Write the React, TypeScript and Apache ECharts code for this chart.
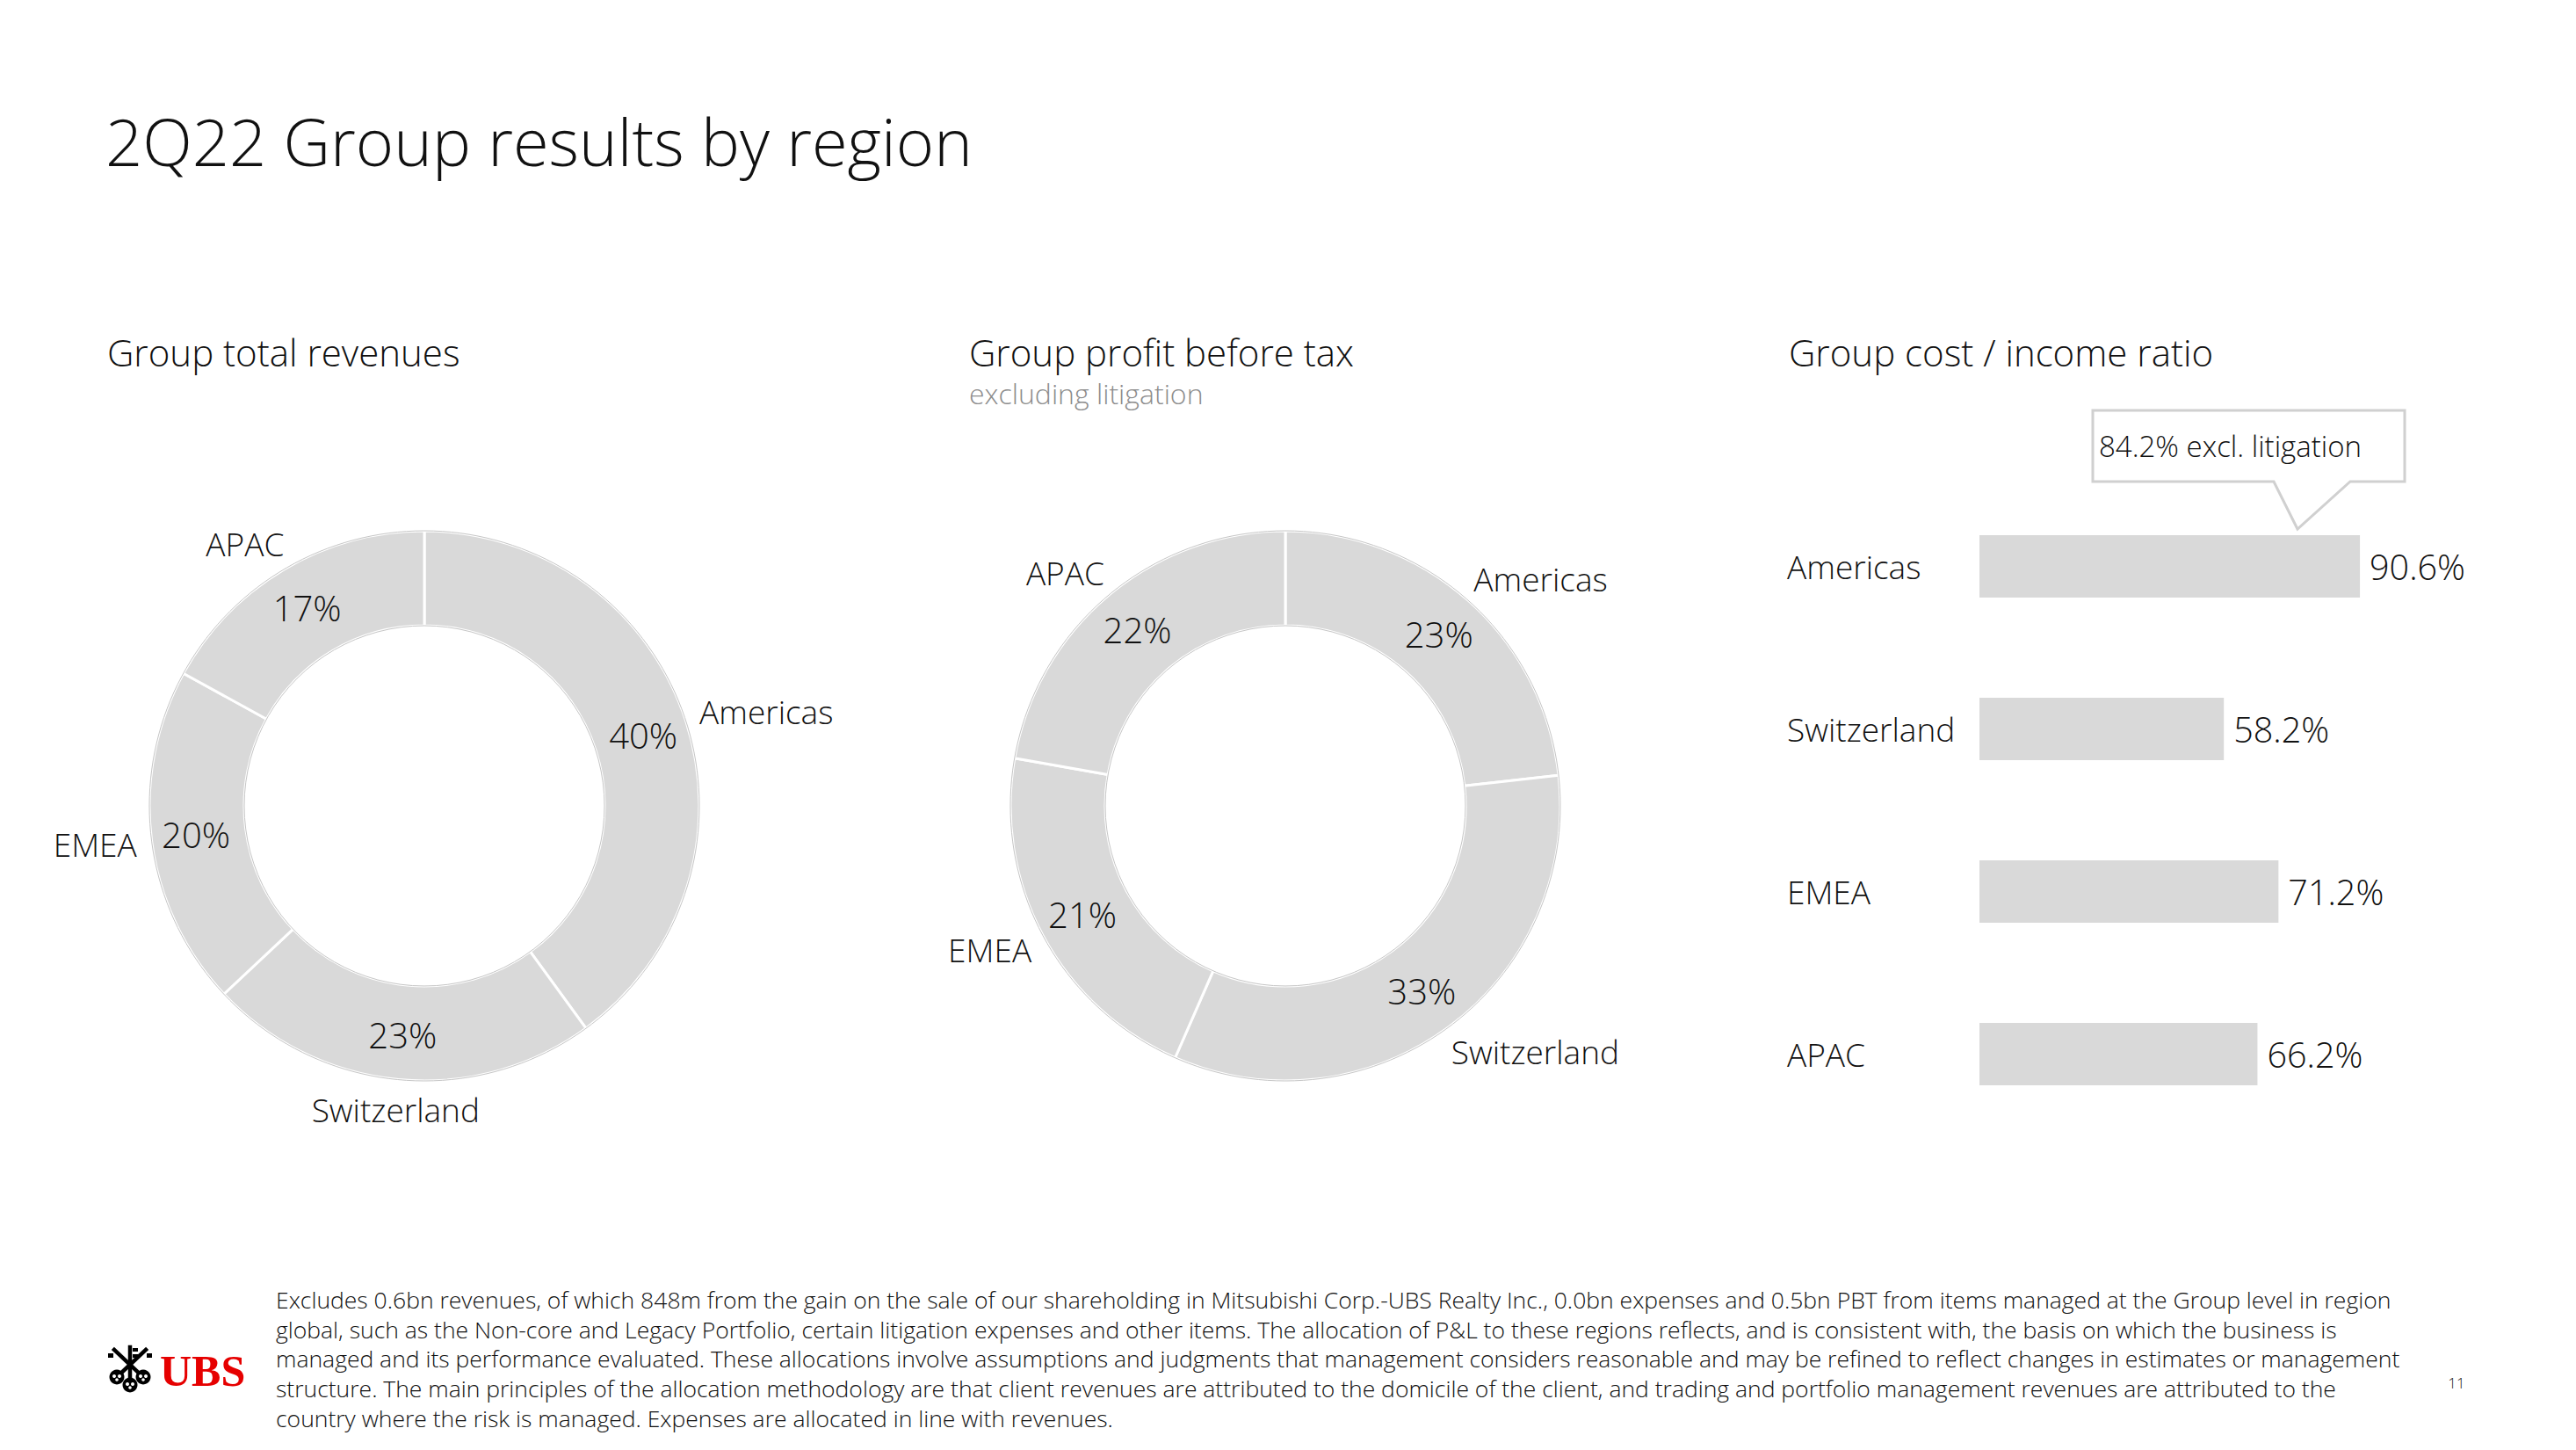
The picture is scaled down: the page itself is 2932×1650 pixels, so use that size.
import React, { useEffect, useRef } from "react";
import * as echarts from "echarts";

const regions = ["Americas", "Switzerland", "EMEA", "APAC"];
const revenueShare = [40, 23, 20, 17];
const pbtShare = [23, 33, 21, 22];
const costIncome = [90.6, 58.2, 71.2, 66.2];
const americasExclLitigation = 84.2;

const pageTitle = "2Q22 Group results by region";
const panelTitles = ["Group total revenues", "Group profit before tax", "Group cost / income ratio"];
const panelSubtitle = "excluding litigation";
const footnoteLines = [
  "Excludes 0.6bn revenues, of which 848m from the gain on the sale of our shareholding in Mitsubishi Corp.-UBS Realty Inc., 0.0bn expenses and 0.5bn PBT from items managed at the Group level in region",
  "global, such as the Non-core and Legacy Portfolio, certain litigation expenses and other items. The allocation of P&L to these regions reflects, and is consistent with, the basis on which the business is",
  "managed and its performance evaluated. These allocations involve assumptions and judgments that management considers reasonable and may be refined to reflect changes in estimates or management",
  "structure. The main principles of the allocation methodology are that client revenues are attributed to the domicile of the client, and trading and portfolio management revenues are attributed to the",
  "country where the risk is managed. Expenses are allocated in line with revenues.",
];

const FONT = "'Open Sans', 'Noto Sans', sans-serif";
const WEIGHT = 300;
const GREY = "#d9d9d9";
const INK = "#111111";

function donutSeries(values: number[], center: [number, number], centerNameFix: number | null) {
  const radius = [205, 313];
  const data = regions.map((name, i) => ({ name, value: values[i] }));
  return [
    {
      type: "pie",
      center,
      radius,
      startAngle: 90,
      silent: true,
      avoidLabelOverlap: false,
      data,
      itemStyle: { color: "rgba(0,0,0,0)", borderWidth: 0 },
      label: {
        show: true,
        position: "outside",
        formatter: "{b}",
        fontFamily: FONT,
        fontWeight: WEIGHT,
        fontSize: 37,
        color: INK,
        distanceToLabelLine: -17,
      },
      labelLine: { show: false, length: 34, length2: 0 },
      labelLayout: (p: any) => {
        if (centerNameFix !== null && p.dataIndex === centerNameFix) {
          return { dx: p.labelRect.width / 2 - 17 };
        }
        return {};
      },
      emphasis: { disabled: true },
    },
    {
      type: "pie",
      center,
      radius,
      startAngle: 90,
      silent: true,
      avoidLabelOverlap: false,
      data,
      itemStyle: { color: GREY, borderColor: "#ffffff", borderWidth: 3 },
      label: {
        show: true,
        position: "inside",
        formatter: "{c}%",
        fontFamily: FONT,
        fontWeight: WEIGHT,
        fontSize: 40,
        color: INK,
      },
      labelLine: { show: false },
      emphasis: { disabled: true },
    },
    {
      type: "pie",
      center,
      radius,
      startAngle: 90,
      silent: true,
      data: [{ name: "outline", value: 1 }],
      itemStyle: { color: "rgba(0,0,0,0)", borderColor: "#c6c6c6", borderWidth: 1 },
      label: { show: false },
      labelLine: { show: false },
      emphasis: { disabled: true },
    },
  ];
}

function textEl(text: string, x: number, y: number, size: number, extra: any = {}) {
  return {
    type: "text",
    x,
    y,
    silent: true,
    style: {
      text,
      fontFamily: FONT,
      fontWeight: WEIGHT,
      fontSize: size,
      fill: INK,
      align: "left",
      textAlign: "left",
      verticalAlign: "middle",
      textVerticalAlign: "middle",
      ...extra,
    },
  };
}

function logoElements() {
  const k = { stroke: "#000", lineWidth: 4.5, lineCap: "square" };
  const bows = [
    [133, 1567],
    [163, 1567],
    [148, 1576],
  ];
  const els: any[] = [
    { type: "line", shape: { x1: 133, y1: 1567, x2: 166, y2: 1536 }, style: k },
    { type: "line", shape: { x1: 163, y1: 1567, x2: 130, y2: 1536 }, style: k },
    { type: "line", shape: { x1: 148, y1: 1576, x2: 148, y2: 1533 }, style: k },
    { type: "rect", shape: { x: 151, y: 1534, width: 6, height: 4 }, style: { fill: "#000" } },
    { type: "rect", shape: { x: 151, y: 1541, width: 6, height: 4 }, style: { fill: "#000" } },
    { type: "rect", shape: { x: 123, y: 1540, width: 6, height: 5 }, style: { fill: "#000" } },
    { type: "rect", shape: { x: 167, y: 1540, width: 6, height: 5 }, style: { fill: "#000" } },
  ];
  bows.forEach(([cx, cy]) => {
    els.push({ type: "circle", shape: { cx, cy, r: 8.5 }, style: { fill: "#000" } });
    els.push({ type: "circle", shape: { cx: cx - 3, cy: cy - 1, r: 2 }, style: { fill: "#fff" } });
    els.push({ type: "circle", shape: { cx: cx + 3, cy: cy - 1, r: 2 }, style: { fill: "#fff" } });
    els.push({ type: "circle", shape: { cx, cy: cy + 3, r: 1.8 }, style: { fill: "#fff" } });
  });
  els.push(
    textEl("UBS", 182, 1560, 50, {
      fontFamily: "'Liberation Serif', 'DejaVu Serif', serif",
      fontWeight: "bold",
      fill: "#e60000",
    })
  );
  return els.map((e) => ({ silent: true, ...e }));
}

export default function App() {
  const ref = useRef<HTMLDivElement>(null);

  useEffect(() => {
    document.body.style.margin = "0";
    const chart = echarts.init(ref.current!, null, { renderer: "svg" });
    const option: any = {
      animation: false,
      backgroundColor: "#ffffff",
      grid: { left: 2253, top: 552, width: 478, height: 740, containLabel: false },
      xAxis: {
        type: "value",
        min: 0,
        max: 100,
        show: false,
      },
      yAxis: {
        type: "category",
        data: regions,
        inverse: true,
        axisLine: { show: false },
        axisTick: { show: false },
        splitLine: { show: false },
        axisLabel: {
          align: "left",
          margin: 219,
          fontFamily: FONT,
          fontWeight: WEIGHT,
          fontSize: 37,
          color: INK,
        },
      },
      series: [
        ...donutSeries(revenueShare, [483, 917], 1),
        ...donutSeries(pbtShare, [1463, 917], null),
        {
          type: "bar",
          data: costIncome,
          barWidth: 71,
          silent: true,
          itemStyle: { color: GREY },
          label: {
            show: true,
            position: "right",
            distance: 11,
            formatter: (p: any) => `${Number(p.value).toFixed(1)}%`,
            fontFamily: FONT,
            fontWeight: WEIGHT,
            fontSize: 39.5,
            color: INK,
          },
          emphasis: { disabled: true },
        },
      ],
      graphic: [
        textEl(pageTitle, 120, 160, 74),
        textEl(panelTitles[0], 122, 400, 42),
        textEl(panelTitles[1], 1103, 400, 42),
        textEl(panelSubtitle, 1103, 447, 32, { fill: "#8c8c8c" }),
        textEl(panelTitles[2], 2036, 400, 42),
        {
          type: "polygon",
          silent: true,
          shape: {
            points: [
              [2382, 467],
              [2737, 467],
              [2737, 548],
              [2675, 548],
              [2615, 602],
              [2588, 548],
              [2382, 548],
            ],
          },
          style: { fill: "#ffffff", stroke: "#d0d0d0", lineWidth: 3 },
        },
        textEl(`${americasExclLitigation.toFixed(1)}% excl. litigation`, 2389, 507, 33),
        textEl(footnoteLines.join("\n"), 314, 1462, 26.5, {
          verticalAlign: "top",
          textVerticalAlign: "top",
          lineHeight: 33.7,
        }),
        textEl("11", 2796, 1573, 17, { align: "center", textAlign: "center" }),
        ...logoElements(),
      ],
    };
    chart.setOption(option);
    return () => chart.dispose();
  }, []);

  return (
    <div
      ref={ref}
      style={{ position: "fixed", left: 0, top: 0, width: 2932, height: 1650, background: "#fff" }}
    />
  );
}
